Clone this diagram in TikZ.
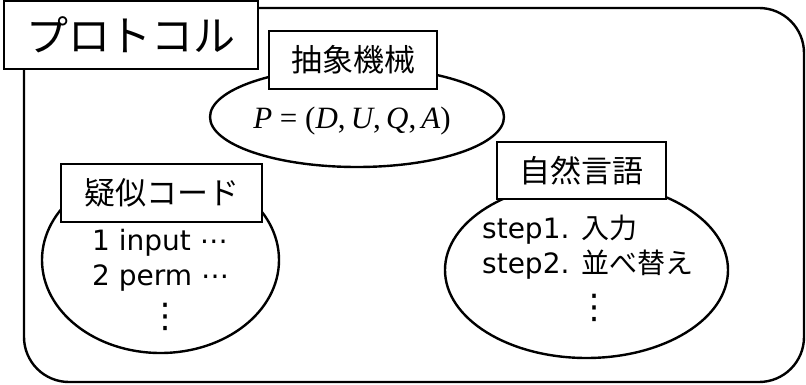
\documentclass[tikz,border=0pt]{standalone}
\usepackage{fontspec}
\setmainfont{DejaVu Sans}
\newfontfamily\jp{Noto Sans CJK JP}
\newfontfamily\mser{Liberation Serif}
\usetikzlibrary{shapes.geometric}
\newcommand{\mv}[1]{{\itshape #1}}
\begin{document}
\begin{tikzpicture}[x=1pt,y=-1pt,
  frame/.style={draw, line width=2.4pt, rounded corners=45pt},
  lbl/.style={draw, fill=white, line width=1.8pt, inner sep=0pt, font=\jp\fontsize{31}{31}\selectfont},
  oval/.style={draw, ellipse, line width=2.4pt, inner sep=0pt},
  body/.style={inner sep=0pt, font=\fontsize{28}{28}\selectfont, anchor=base west},
  dots/.style={inner sep=0pt, font=\fontsize{34}{34}\selectfont, anchor=base}]
\useasboundingbox (0,0) rectangle (806,385);
\draw[frame] (24,8) rectangle (804,382);
% ellipses
\node[oval, minimum width=294pt, minimum height=100pt] (amE) at (357,117) {};
\node[oval, minimum width=237pt, minimum height=186pt] (pcE) at (160.5,260) {};
\node[oval, minimum width=283pt, minimum height=176pt] (nlE) at (586.5,270) {};
% label boxes
\node[lbl, minimum width=254pt, minimum height=68pt, font=\jp\fontsize{42}{42}\selectfont] (title) at (131,35) {プロトコル};
\node[lbl, minimum width=168pt, minimum height=58pt] (am) at (353,60) {抽象機械};
\node[lbl, minimum width=201pt, minimum height=58pt] (pc) at (161.5,193) {疑似コード};
\node[lbl, minimum width=169pt, minimum height=57pt] (nl) at (581.5,170.5) {自然言語};
% contents
\node[inner sep=0pt, anchor=base, font=\mser\fontsize{31}{31}\selectfont] (formula) at (352,129) {\mv{P} = (\mv{D},\,\mv{U},\,\mv{Q},\,\mv{A})};
\node[body] (pc1) at (92,250) {1 input ⋯};
\node[body] (pc2) at (92,285) {2 perm ⋯};
\node[dots] (pc3) at (165,327) {⋮};
\node[body] (nl1) at (482,238) {step1. {\jp\fontsize{28}{28}\selectfont 入力}};
\node[body] (nl2) at (482,273) {step2. {\jp\fontsize{28}{28}\selectfont 並べ替え}};
\node[dots] (nl3) at (594,318) {⋮};
\end{tikzpicture}
\end{document}
